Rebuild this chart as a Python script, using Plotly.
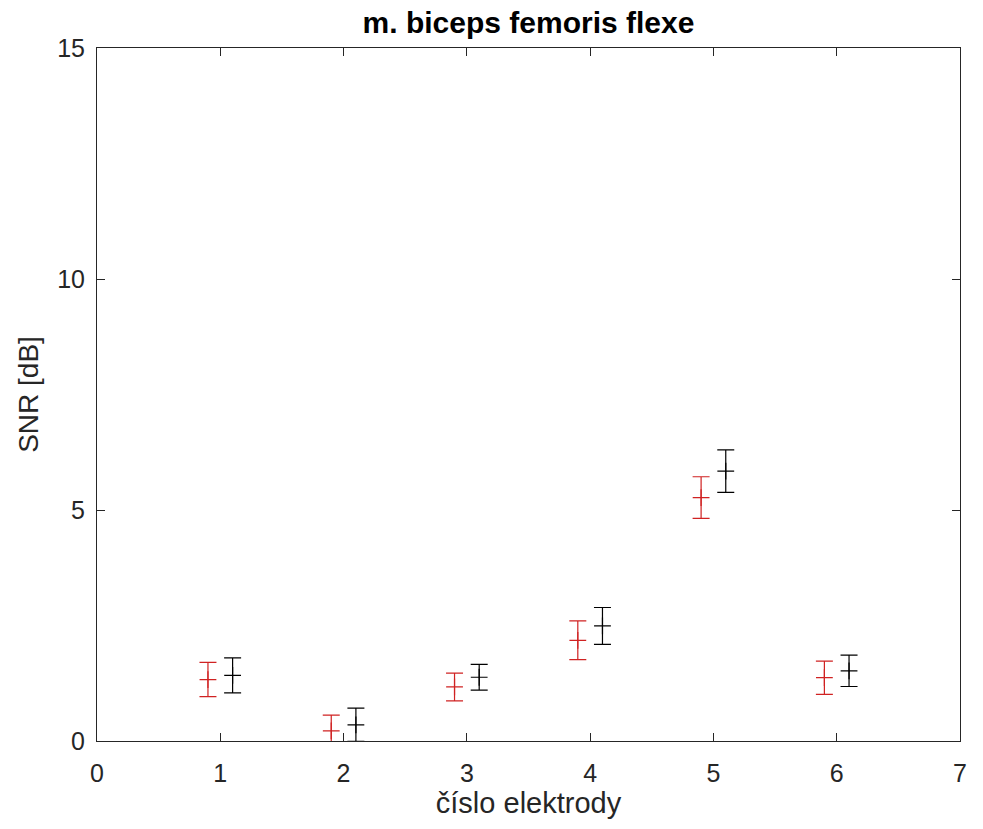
import plotly.graph_objects as go

# Electrode numbers and SNR statistics for the two conditions
electrodes = [1, 2, 3, 4, 5, 6]
offset = 0.1

snr_red = [1.33, 0.22, 1.17, 2.18, 5.27, 1.37]
err_red = [0.37, 0.34, 0.30, 0.42, 0.45, 0.36]

snr_black = [1.42, 0.35, 1.38, 2.49, 5.84, 1.52]
err_black = [0.38, 0.36, 0.28, 0.40, 0.46, 0.34]

x_ticks = [0, 1, 2, 3, 4, 5, 6, 7]
y_ticks = [0, 5, 10, 15]

axis_color = "#262626"
font_family = "Liberation Sans, Arial, sans-serif"

fig = go.Figure()


def add_series(values, errors, shift, color):
    fig.add_trace(go.Scatter(
        x=[e + shift for e in electrodes],
        y=values,
        mode="markers",
        marker=dict(symbol="cross-thin", size=12,
                    line=dict(color=color, width=1.2)),
        error_y=dict(type="data", array=errors, visible=True,
                     color=color, thickness=1.2, width=8.5),
        showlegend=False,
    ))


add_series(snr_red, err_red, -offset, "#d02222")
add_series(snr_black, err_black, offset, "#000000")

axis_common = dict(
    showline=True, linecolor=axis_color, linewidth=1,
    mirror="ticks", ticks="inside", ticklen=8, tickwidth=1,
    tickcolor=axis_color, showgrid=False, zeroline=False,
    tickfont=dict(family=font_family, size=25, color=axis_color),
)

fig.update_layout(
    width=983, height=829,
    margin=dict(l=97, r=23, t=48, b=88),
    paper_bgcolor="white", plot_bgcolor="white",
    title=dict(text="<b>m. biceps femoris flexe</b>",
               font=dict(family=font_family, size=30, color="#000000"),
               x=(97 + (983 - 23)) / 2 / 983, xanchor="center",
               y=1 - 22 / 829, yanchor="middle", yref="container"),
    xaxis=dict(range=[0, 7], tickvals=x_ticks, ticklabelstandoff=10,
               title=dict(text="číslo elektrody", standoff=6,
                          font=dict(family=font_family, size=29, color=axis_color)),
               **axis_common),
    yaxis=dict(range=[0, 15], tickvals=y_ticks, ticklabelstandoff=6,
               title=dict(text="SNR [dB]", standoff=10,
                          font=dict(family=font_family, size=28, color=axis_color)),
               **axis_common),
)

fig.write_html("out.html")
